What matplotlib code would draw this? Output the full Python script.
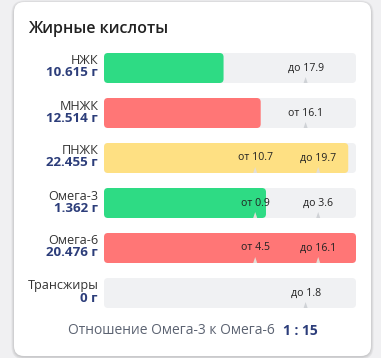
import numpy as np
import matplotlib
matplotlib.use('Agg')
import matplotlib.pyplot as plt
from matplotlib.patches import FancyBboxPatch, Polygon

plt.rcParams['font.family'] = ['Open Sans', 'DejaVu Sans']

# --- data ---
names = ['НЖК', 'МНЖК', 'ПНЖК', 'Омега-3', 'Омега-6', 'Трансжиры']
values = [10.615, 12.514, 22.455, 1.362, 20.476, 0]
lows = [None, 16.1, 10.7, 0.9, 4.5, None]
highs = [17.9, None, 19.7, 3.6, 16.1, 1.8]
bar_colors = ['#2edb84', '#ff7676', '#fee083', '#2edb84', '#ff7676', None]
ratio_text = 'Отношение Омега-3 к Омега-6'
ratio_value = '1 : 15'

NAVY = '#2c3d7a'
TRACK = '#f0f1f3'


def scale(v, lo, hi):
    # piecewise display scale: norm markers sit at fixed positions
    if lo is not None and hi is not None:
        return np.interp(v, [0, lo, hi, hi * 1.176], [0, 0.6, 0.85, 1.0])
    ref = lo if lo is not None else hi
    return np.interp(v, [0, ref, ref * 1.25], [0, 0.8, 1.0])


fig = plt.figure(figsize=(3.81, 3.58), dpi=100, facecolor='#f0f0f2')
ax = fig.add_axes([0, 0, 1, 1])
ax.set_xlim(0, 381); ax.set_ylim(358, 0); ax.axis('off')

# card with soft shadow
for i, a in enumerate([0.05, 0.05, 0.06]):
    d = 3 - i
    ax.add_patch(FancyBboxPatch((14 - d + 0.5, 2 - d + 1.5), 357 + 2 * d - 1, 354 + 2 * d - 1,
                                boxstyle='round,pad=0,rounding_size=%d' % (10 + d),
                                fc='#000000', ec='none', alpha=a))
ax.add_patch(FancyBboxPatch((14, 2), 357, 354, boxstyle='round,pad=0,rounding_size=10',
                            fc='white', ec='none'))

ax.text(28, 29, 'Жирные кислоты', fontsize=11.5, fontweight='semibold', color='#222222',
        ha='left', va='center')

x0, W, H = 104, 252, 30
for i, (n, v, lo, hi, c) in enumerate(zip(names, values, lows, highs, bar_colors)):
    top = 53 + 45 * i
    cy = top + H / 2
    ax.add_patch(FancyBboxPatch((x0, top), W, H, boxstyle='round,pad=0,rounding_size=4',
                                fc=TRACK, ec='none'))
    f = scale(v, lo, hi)
    if c is not None and f > 0:
        ax.add_patch(FancyBboxPatch((x0, top), W * f, H, boxstyle='round,pad=0,rounding_size=4',
                                    fc=c, ec='none'))
    marks = []
    if lo is not None:
        marks.append(('от', lo))
    if hi is not None:
        marks.append(('до', hi))
    for word, m in marks:
        mx = x0 + W * scale(m, lo, hi)
        on_bar = c is not None and mx < x0 + W * f
        ax.add_patch(Polygon([(mx - 2, top + H), (mx + 2, top + H), (mx, top + H - 6)],
                             closed=True, fc='#e2ded6' if on_bar else '#cfd2d6', ec='none'))
        ax.text(mx, cy, f'{word} {m:g}', fontsize=7.6, color='#222222', ha='center', va='center')
    ax.text(98.5, cy - 7, n, fontsize=9.1, color='#333333', ha='right', va='center')
    ax.text(98, cy + 5, f'{v:g} г', fontsize=9.6, fontweight='bold', color=NAVY,
            ha='right', va='center')

ax.text(275, 331, ratio_text, fontsize=10, color='#5c6372', ha='right', va='center')
ax.text(283, 331, ratio_value, fontsize=10, fontweight='bold', color=NAVY, ha='left', va='center')

fig.savefig('out.png', dpi=100, facecolor=fig.get_facecolor())
